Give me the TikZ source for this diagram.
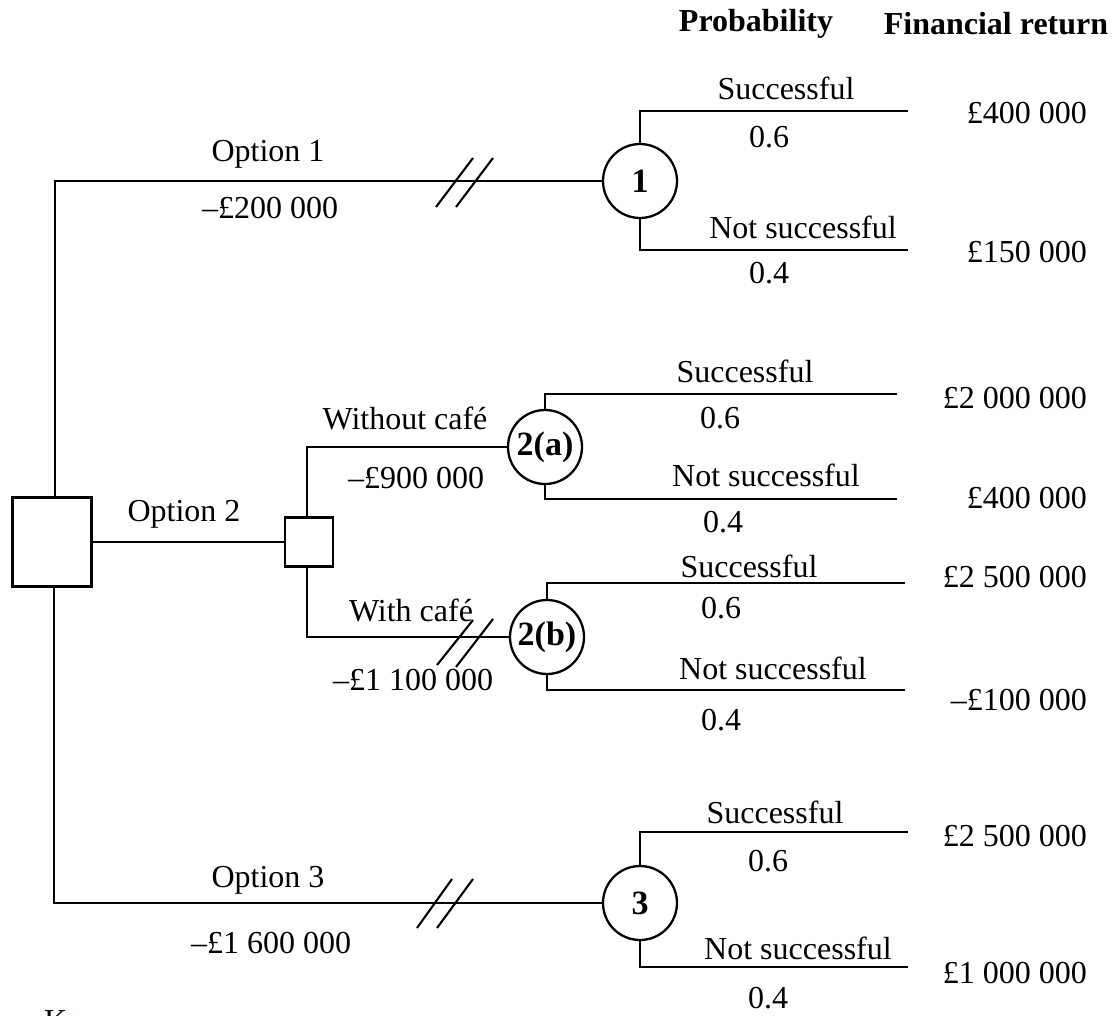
\documentclass[tikz,border=0pt]{standalone}
\usepackage{fontspec}
\setmainfont{Liberation Serif}
\begin{document}
\begin{tikzpicture}[x=1pt,y=-1pt,line width=2.3pt,
  lbl/.style={font=\fontsize{32}{38}\selectfont,inner sep=0pt},
  ret/.style={font=\fontsize{32}{38}\selectfont,inner sep=0pt,anchor=east},
  hdr/.style={font=\fontsize{32}{38}\selectfont\bfseries,inner sep=0pt},
  chance/.style={draw,circle,minimum size=74pt,inner sep=0pt,font=\fontsize{34}{40}\selectfont\bfseries},
  decbox/.style={draw,rectangle,inner sep=0pt},
  cut/.style={line width=2.1pt}]
\useasboundingbox (0,0) rectangle (1114,1015);
% decision nodes
\node[decbox,minimum width=79pt,minimum height=89pt] (dec) at (52,542) {};
\node[decbox,minimum width=48pt,minimum height=49pt] (dec2) at (309,542) {};
% chance nodes
\node[chance] (c1) at (640,181) {1};
\node[chance] (c2a) at (545,447) {2(a)};
\node[chance] (c2b) at (547,637) {2(b)};
\node[chance] (c3) at (640,903) {3};
% end coordinates
\coordinate (e1s) at (908,111);
\coordinate (e1n) at (908,250);
\coordinate (e2as) at (897,394);
\coordinate (e2an) at (897,499);
\coordinate (e2bs) at (905,583);
\coordinate (e2bn) at (905,690);
\coordinate (e3s) at (908,832);
\coordinate (e3n) at (908,967);
% connectors
\draw ([xshift=3pt]dec.north) |- (c1.west);
\draw (dec.east) -- (dec2.west);
\draw ([xshift=2pt]dec.south) |- (c3.west);
\draw ([xshift=-2pt]dec2.north) |- (c2a.west);
\draw ([xshift=-2pt]dec2.south) |- (c2b.west);
\draw (c1.north) |- (e1s);
\draw (c1.south) |- (e1n);
\draw (c2a.north) |- (e2as);
\draw (c2a.south) |- (e2an);
\draw (c2b.north) |- (e2bs);
\draw (c2b.south) |- (e2bn);
\draw (c3.north) |- (e3s);
\draw (c3.south) |- (e3n);
% cut marks
\draw[cut] (436,207) -- (473,158) (456,207) -- (493,158);
\draw[cut] (437,665) -- (473,620) (456,667) -- (493,619);
\draw[cut] (417,928) -- (452,879) (437,928) -- (473,879);
% headers
\node[hdr] (hp) at (756,24) {Probability};
\node[hdr] (hf) at (996,24) {Financial return};
% option labels
\node[lbl] (o1) at (268,154) {Option 1};
\node[lbl] (o1c) at (270,208) {–£200 000};
\node[lbl] (o2) at (184,514) {Option 2};
\node[lbl] (o2a) at (405,418) {Without café};
\node[lbl] (o2ac) at (416,478) {–£900 000};
\node[lbl] (o2b) at (411,610) {With café};
\node[lbl] (o2bc) at (413,680) {–£1 100 000};
\node[lbl] (o3) at (268,880) {Option 3};
\node[lbl] (o3c) at (271,943) {–£1 600 000};
% outcome labels
\node[lbl] at (786,88) {Successful};
\node[lbl] at (769,137) {0.6};
\node[lbl] at (803,227) {Not successful};
\node[lbl] at (769,273) {0.4};
\node[lbl] at (745,371) {Successful};
\node[lbl] at (720,418) {0.6};
\node[lbl] at (766,475) {Not successful};
\node[lbl] at (723,522) {0.4};
\node[lbl] at (749,566) {Successful};
\node[lbl] at (721,608) {0.6};
\node[lbl] at (773,668) {Not successful};
\node[lbl] at (721,720) {0.4};
\node[lbl] at (775,812) {Successful};
\node[lbl] at (768,861) {0.6};
\node[lbl] at (798,948) {Not successful};
\node[lbl] at (768,998) {0.4};
% returns
\node[ret] at (1088,113) {£400 000};
\node[ret] at (1088,252) {£150 000};
\node[ret] at (1088,398) {£2 000 000};
\node[ret] at (1088,498) {£400 000};
\node[ret] at (1088,577) {£2 500 000};
\node[ret] at (1088,700) {–£100 000};
\node[ret] at (1088,836) {£2 500 000};
\node[ret] at (1088,973) {£1 000 000};
% key (cut off at the lower edge)
\node[lbl,anchor=north west] (key) at (43,1009) {Key};
\end{tikzpicture}
\end{document}
